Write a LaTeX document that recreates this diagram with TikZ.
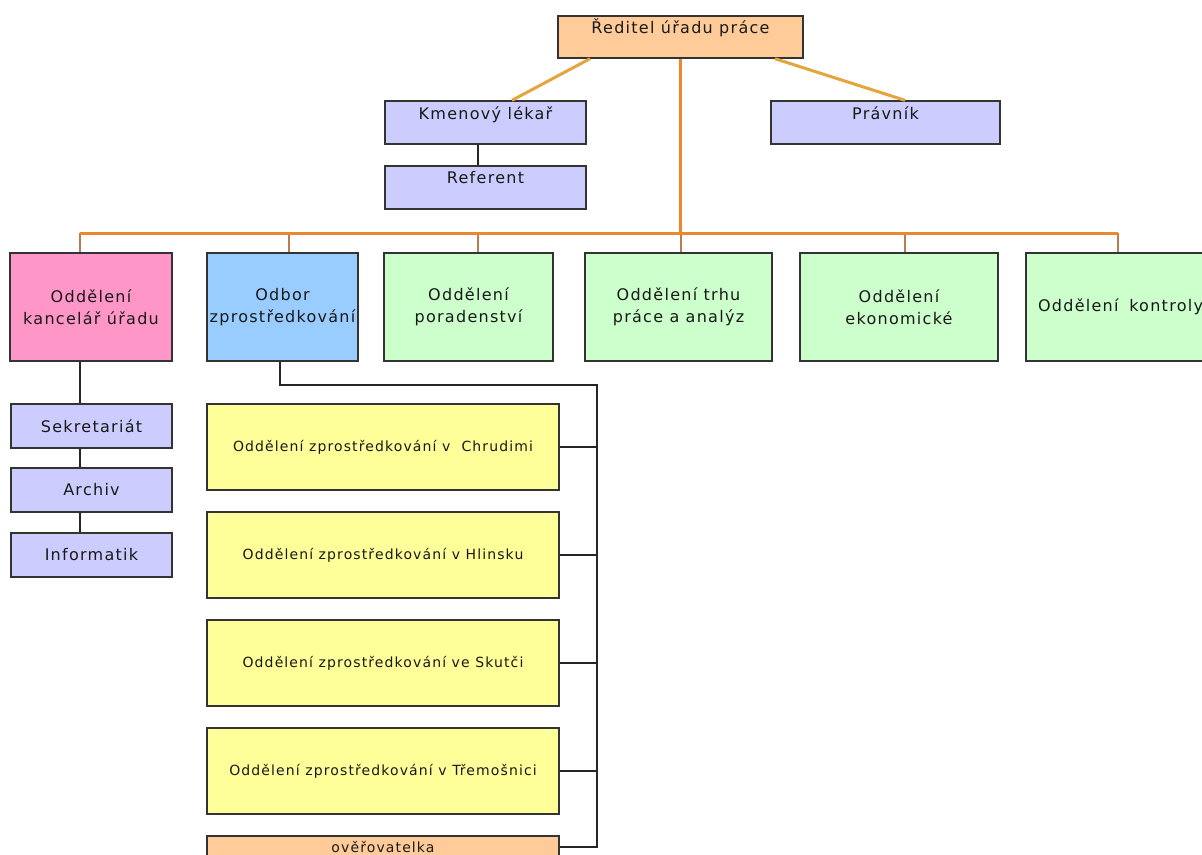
\documentclass[tikz,border=0pt]{standalone}
\usepackage{fontspec}
\setmainfont{DejaVu Sans}[LetterSpace=8]
\newcommand{\oddel}     {Oddělení}
\newcommand{\zpr}       {zprostředkování}
\newcommand{\fbig}      {\fontsize{16}{22}\selectfont}
\newcommand{\fsm}       {\fontsize{14}{17}\selectfont}
\definecolor{peach}{RGB}{255,204,153}
\definecolor{lilac}{RGB}{204,204,255}
\definecolor{rose}{RGB}{255,150,200}
\definecolor{sky}{RGB}{153,204,255}
\definecolor{mint}{RGB}{204,255,204}
\definecolor{lemon}{RGB}{255,255,153}
\definecolor{busline}{RGB}{235,135,45}
\definecolor{dropline}{RGB}{185,125,80}
\definecolor{diagline}{RGB}{228,165,60}
\tikzset{
  box/.style={draw=black!80,line width=1.4pt,inner sep=0pt,text=black!90,font=\fbig},
  upbox/.style={box,text height=18pt,text depth=25pt},
  rowbox/.style={box,minimum height=108pt,align=center},
  colbox/.style={box,fill=lilac,minimum width=161pt,minimum height=44pt},
  yelbox/.style={box,fill=lemon,minimum width=352pt,minimum height=86pt,font=\fsm},
  bus/.style={busline,line width=3pt},
  drop/.style={dropline,line width=2.5pt},
  diag/.style={diagline,line width=3pt},
  tie/.style={black!85,line width=1.4pt}
}

\begin{document}
\begin{tikzpicture}[x=1pt,y=-1pt]
   \useasboundingbox (0,0) rectangle (1202,854);
   \begin{scope}
    \node[upbox,fill=peach,minimum width=245pt,text height=17pt] (dir) at (680.5,37) {Ředitel úřadu práce};
    \node[upbox,fill=lilac,minimum width=201pt] (kme) at (485.5,122.5) {Kmenový lékař};
    \node[upbox,fill=lilac,minimum width=201pt,text height=17pt,text depth=26pt] (ref) at (485.5,187.5) {Referent};
    \node[upbox,fill=lilac,minimum width=229pt] (pra) at (885.5,122.5) {Právník};
    \draw[diag] ([xshift=-90.5pt]dir.south) -- ([xshift=26.5pt]kme.north);
    \draw[diag] ([xshift=94.5pt]dir.south) -- ([xshift=19.5pt]pra.north);
    \draw[tie] ([xshift=-7.5pt]kme.south) -- ([xshift=-7.5pt]ref.north);
   \end{scope}
   \begin{scope}
    \node[rowbox,fill=rose,minimum width=162pt] (kan) at (91,307) {\oddel\\kancelář úřadu};
    \node[rowbox,fill=sky,minimum width=151pt] (odb) at (282.5,307) {Odbor\\\zpr};
    \node[rowbox,fill=mint,minimum width=169pt] (por) at (468.5,307) {\oddel\\poradenství};
    \node[rowbox,fill=mint,minimum width=187pt] (trh) at (678.5,307) {\oddel\ trhu\\práce a analýz};
    \node[rowbox,fill=mint,minimum width=198pt] (eko) at (899,307) {\oddel\\ekonomické};
    \node[rowbox,fill=mint,inner xsep=12pt,text width=170pt,align=left] (kon) at (1123,307) {\oddel\ \ kontroly};
    \coordinate (b1) at (80,233);
    \coordinate (b2) at (289,233);
    \coordinate (b3) at (478,233);
    \coordinate (b4) at (681,233);
    \coordinate (b5) at (905,233);
    \coordinate (b6) at (1118,233);
    \draw[drop] (b1) -- (b1 |- kan.north);
    \draw[drop] (b2) -- (b2 |- odb.north);
    \draw[drop] (b3) -- (b3 |- por.north);
    \draw[drop] (b4) -- (b4 |- trh.north);
    \draw[drop] (b5) -- (b5 |- eko.north);
    \draw[drop] (b6) -- (b6 |- kon.north);
    \draw[bus] (b1) -- (b6);
    \draw[bus] (dir.south) -- (dir.south |- b4);
   \end{scope}
   \begin{scope}
    \node[colbox] (sek) at (91.5,426) {Sekretariát};
    \node[colbox] (arc) at (91.5,490) {Archiv};
    \node[colbox] (inf) at (91.5,555) {Informatik};
    \coordinate (lc) at (80,0);
    \draw[tie] (kan.south -| lc) -- (sek.north -| lc);
    \draw[tie] (sek.south -| lc) -- (arc.north -| lc);
    \draw[tie] (arc.south -| lc) -- (inf.north -| lc);
   \end{scope}
   \begin{scope}
    \node[yelbox] (chr) at (383,447) {\oddel\ \zpr\ v\ \ Chrudimi};
    \node[yelbox] (hli) at (383,555) {\oddel\ \zpr\ v Hlinsku};
    \node[yelbox] (sku) at (383,663) {\oddel\ \zpr\ ve Skutči};
    \node[yelbox] (tre) at (383,771) {\oddel\ \zpr\ v Třemošnici};
    \node[box,fill=peach,minimum width=352pt,minimum height=22pt,font=\fsm] (ove) at (383,847) {ověřovatelka};
    \coordinate (rail) at (597,385);
    \draw[tie] ([xshift=-2.5pt]odb.south) |- (rail) |- (ove.east);
    \draw[tie] (chr.east) -- (chr.east -| rail);
    \draw[tie] (hli.east) -- (hli.east -| rail);
    \draw[tie] (sku.east) -- (sku.east -| rail);
    \draw[tie] (tre.east) -- (tre.east -| rail);
   \end{scope}
\end{tikzpicture}
\end{document}
